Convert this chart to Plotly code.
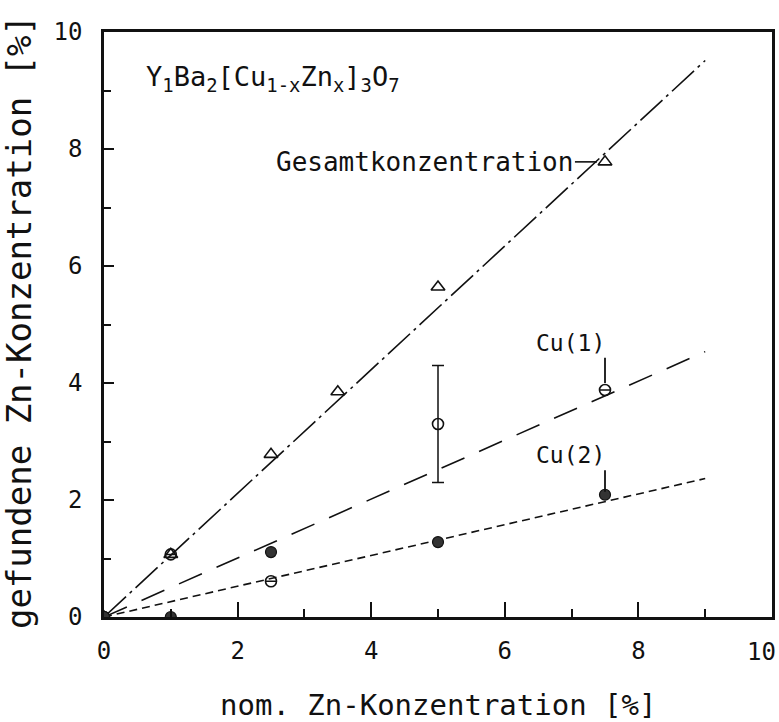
import plotly.graph_objects as go

# nominal Zn content (x axis) and measured Zn content per site
x_total = [0, 1, 2.5, 3.5, 5, 7.5]
y_total = [0, 1.07, 2.78, 3.85, 5.64, 7.78]

x_cu1 = [0, 1, 2.5, 5, 7.5]
y_cu1 = [0, 1.07, 0.61, 3.30, 3.88]
err_cu1 = [0, 0, 0, 1.0, 0]

x_cu2 = [0, 1, 2.5, 5, 7.5]
y_cu2 = [0, 0, 1.11, 1.28, 2.09]

# straight-line fits through the origin (slope), drawn up to x_fit_end
fit_slope_total = 1.057
fit_slope_cu1 = 0.504
fit_slope_cu2 = 0.263
x_fit_end = 9.0

x_ticks = [0, 2, 4, 6, 8, 10]
y_ticks = [0, 2, 4, 6, 8, 10]

FONT = "DejaVu Sans Mono"
INK = "#111111"

fig = go.Figure()

fit_x = [0, x_fit_end]
fig.add_trace(go.Scatter(x=fit_x, y=[fit_slope_total * v for v in fit_x], mode="lines",
                         line=dict(color=INK, width=1.6, dash="30px,5px,3px,5px"),
                         hoverinfo="skip", showlegend=False))
fig.add_trace(go.Scatter(x=fit_x, y=[fit_slope_cu1 * v for v in fit_x], mode="lines",
                         line=dict(color=INK, width=1.6, dash="25px,16px"),
                         hoverinfo="skip", showlegend=False))
fig.add_trace(go.Scatter(x=fit_x, y=[fit_slope_cu2 * v for v in fit_x], mode="lines",
                         line=dict(color=INK, width=1.6, dash="8px,5px"),
                         hoverinfo="skip", showlegend=False))

fig.add_trace(go.Scatter(x=x_total, y=y_total, mode="markers", name="Gesamtkonzentration",
                         marker=dict(symbol="triangle-up-open", size=12, color=INK,
                                     line=dict(width=1.6, color=INK)),
                         showlegend=False))
fig.add_trace(go.Scatter(x=x_cu1, y=y_cu1, mode="markers", name="Cu(1)",
                         marker=dict(symbol="circle-open", size=11, color=INK,
                                     line=dict(width=1.6, color=INK)),
                         error_y=dict(type="data", array=err_cu1, visible=True,
                                      color=INK, thickness=1.5, width=6),
                         showlegend=False))
fig.add_trace(go.Scatter(x=x_cu2, y=y_cu2, mode="markers", name="Cu(2)",
                         marker=dict(symbol="circle", size=11, color="#333333",
                                     line=dict(width=1.2, color=INK)),
                         showlegend=False))

# label connectors
i_tot = x_total.index(7.5)
i_cu1 = x_cu1.index(7.5)
i_cu2 = x_cu2.index(7.5)
shapes = [
    dict(type="line", xref="x", yref="y",
         x0=x_total[i_tot] - 0.45, x1=x_total[i_tot] - 0.12,
         y0=y_total[i_tot], y1=y_total[i_tot], line=dict(color=INK, width=1.6)),
    dict(type="line", xref="x", yref="y",
         x0=x_cu1[i_cu1], x1=x_cu1[i_cu1],
         y0=y_cu1[i_cu1] + 0.12, y1=y_cu1[i_cu1] + 0.55, line=dict(color=INK, width=1.8)),
    dict(type="line", xref="x", yref="y",
         x0=x_cu2[i_cu2], x1=x_cu2[i_cu2],
         y0=y_cu2[i_cu2] + 0.05, y1=y_cu2[i_cu2] + 0.42, line=dict(color=INK, width=1.8)),
]

# the last x tick label sits at the page edge, so it is placed by hand
x_tick_text = [str(v) for v in x_ticks[:-1]] + [""]
tickfont = dict(family=FONT, size=24, color=INK)

annotations = [
    dict(text="Y<sub>1</sub>Ba<sub>2</sub>[Cu<sub>1-x</sub>Zn<sub>x</sub>]<sub>3</sub>O<sub>7</sub>",
         x=0.6, y=9.2, xref="x", yref="y", xanchor="left", yanchor="middle",
         showarrow=False, font=dict(family=FONT, size=27, color=INK)),
    dict(text="Gesamtkonzentration", x=x_total[i_tot] - 0.45, y=y_total[i_tot],
         xref="x", yref="y", xanchor="right", yanchor="middle",
         showarrow=False, font=dict(family=FONT, size=26, color=INK)),
    dict(text="Cu(1)", x=x_cu1[i_cu1] + 0.03, y=y_cu1[i_cu1] + 0.55,
         xref="x", yref="y", xanchor="right", yanchor="bottom",
         showarrow=False, font=dict(family=FONT, size=23, color=INK)),
    dict(text="Cu(2)", x=x_cu2[i_cu2] + 0.03, y=y_cu2[i_cu2] + 0.42,
         xref="x", yref="y", xanchor="right", yanchor="bottom",
         showarrow=False, font=dict(family=FONT, size=23, color=INK)),
    dict(text=str(x_ticks[-1]), x=x_ticks[-1], y=0, xref="x", yref="paper",
         xanchor="right", yanchor="top", xshift=6, yshift=-19, showarrow=False,
         font=tickfont),
    dict(text="nom. Zn-Konzentration [%]", x=0.5, y=-0.15, xref="paper", yref="paper",
         xanchor="center", yanchor="middle", showarrow=False,
         font=dict(family=FONT, size=29, color=INK)),
    dict(text="gefundene Zn-Konzentration [%]", x=-0.128, y=0.505, xref="paper", yref="paper",
         xanchor="center", yanchor="middle", textangle=-90, showarrow=False,
         font=dict(family=FONT, size=34, color=INK)),
]

axis_common = dict(range=[0, 10], showgrid=False, zeroline=False, showline=True,
                   mirror=True, linecolor=INK, linewidth=2.5, ticks="inside",
                   tickcolor=INK, tickwidth=1.8, automargin=False, tickfont=tickfont)

fig.update_layout(
    width=779, height=722,
    margin=dict(l=104, r=7, t=32, b=105),
    paper_bgcolor="white", plot_bgcolor="white",
    xaxis=dict(**axis_common, tickvals=x_ticks, ticktext=x_tick_text, ticklen=15,
               ticklabelstandoff=10,
               minor=dict(tickvals=[1, 3, 5, 7, 9], ticklen=8, tickcolor=INK,
                          tickwidth=1.8, ticks="inside")),
    yaxis=dict(**axis_common, tickvals=y_ticks, ticklen=10, ticklabelstandoff=14,
               minor=dict(tickvals=[1, 3, 5, 7, 9], ticklen=7, tickcolor=INK,
                          tickwidth=1.8, ticks="inside")),
    shapes=shapes,
    annotations=annotations,
)

fig.write_html("out.html")
